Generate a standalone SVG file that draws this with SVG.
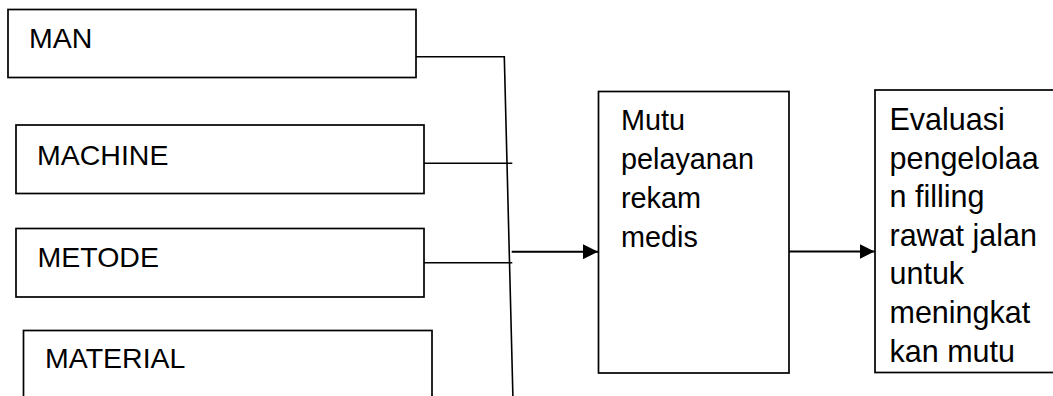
<svg xmlns="http://www.w3.org/2000/svg" width="1053" height="396" viewBox="0 0 1053 396">
<defs>
<style>
.box{fill:#fff;stroke:#000;stroke-width:1.7}
.t{font-family:"Liberation Sans",Arial,sans-serif;font-size:28.5px;fill:#000}
.m{font-size:28.8px}
.e{font-size:30.5px}
.c{fill:none;stroke:#000;stroke-width:1.6}
.a{fill:none;stroke:#000;stroke-width:2}
</style>
<marker id="arr" markerWidth="15" markerHeight="15" refX="15" refY="7.5" orient="auto" markerUnits="userSpaceOnUse">
<path d="M0,0 L15,7.5 L0,15 Z" fill="#000"/>
</marker>
</defs>
<rect width="1053" height="396" fill="#fff"/>
<g id="man"><rect class="box" x="8" y="9.5" width="408" height="68"/><text class="t" x="29" y="48">MAN</text></g>
<g id="machine"><rect class="box" x="16" y="125" width="408" height="68.5"/><text class="t" x="37" y="165">MACHINE</text></g>
<g id="metode"><rect class="box" x="16" y="228.5" width="408" height="68.5"/><text class="t" x="37.5" y="267">METODE</text></g>
<g id="material"><rect class="box" x="23.5" y="330.5" width="408.5" height="80"/><text class="t" x="45" y="368">MATERIAL</text></g>
<g id="mutu"><rect class="box" x="598.5" y="91.5" width="190.5" height="281.5"/>
<text class="t m"><tspan x="621" y="130">Mutu</tspan><tspan x="621" y="169">pelayanan</tspan><tspan x="621" y="208">rekam</tspan><tspan x="621" y="247">medis</tspan></text></g>
<g id="evaluasi"><rect class="box" x="875" y="90" width="180" height="282.5"/>
<text class="t e"><tspan x="889.5" y="130">Evaluasi</tspan><tspan x="889.5" y="168.6">pengelolaa</tspan><tspan x="889.5" y="207.2">n filling</tspan><tspan x="889.5" y="245.8">rawat jalan</tspan><tspan x="889.5" y="284.4">untuk</tspan><tspan x="889.5" y="323">meningkat</tspan><tspan x="889.5" y="361.7">kan mutu</tspan></text></g>
<g id="connectors">
<path class="c" d="M416,56.7 H504.3 L513,400"/>
<path class="c" d="M424,163.3 H512.3"/>
<path class="c" d="M424,262.7 H512.3"/>
<path class="a" d="M511.7,251.7 H598" marker-end="url(#arr)"/>
<path class="a" d="M789,251.5 H874.5" marker-end="url(#arr)"/>
</g>
</svg>
